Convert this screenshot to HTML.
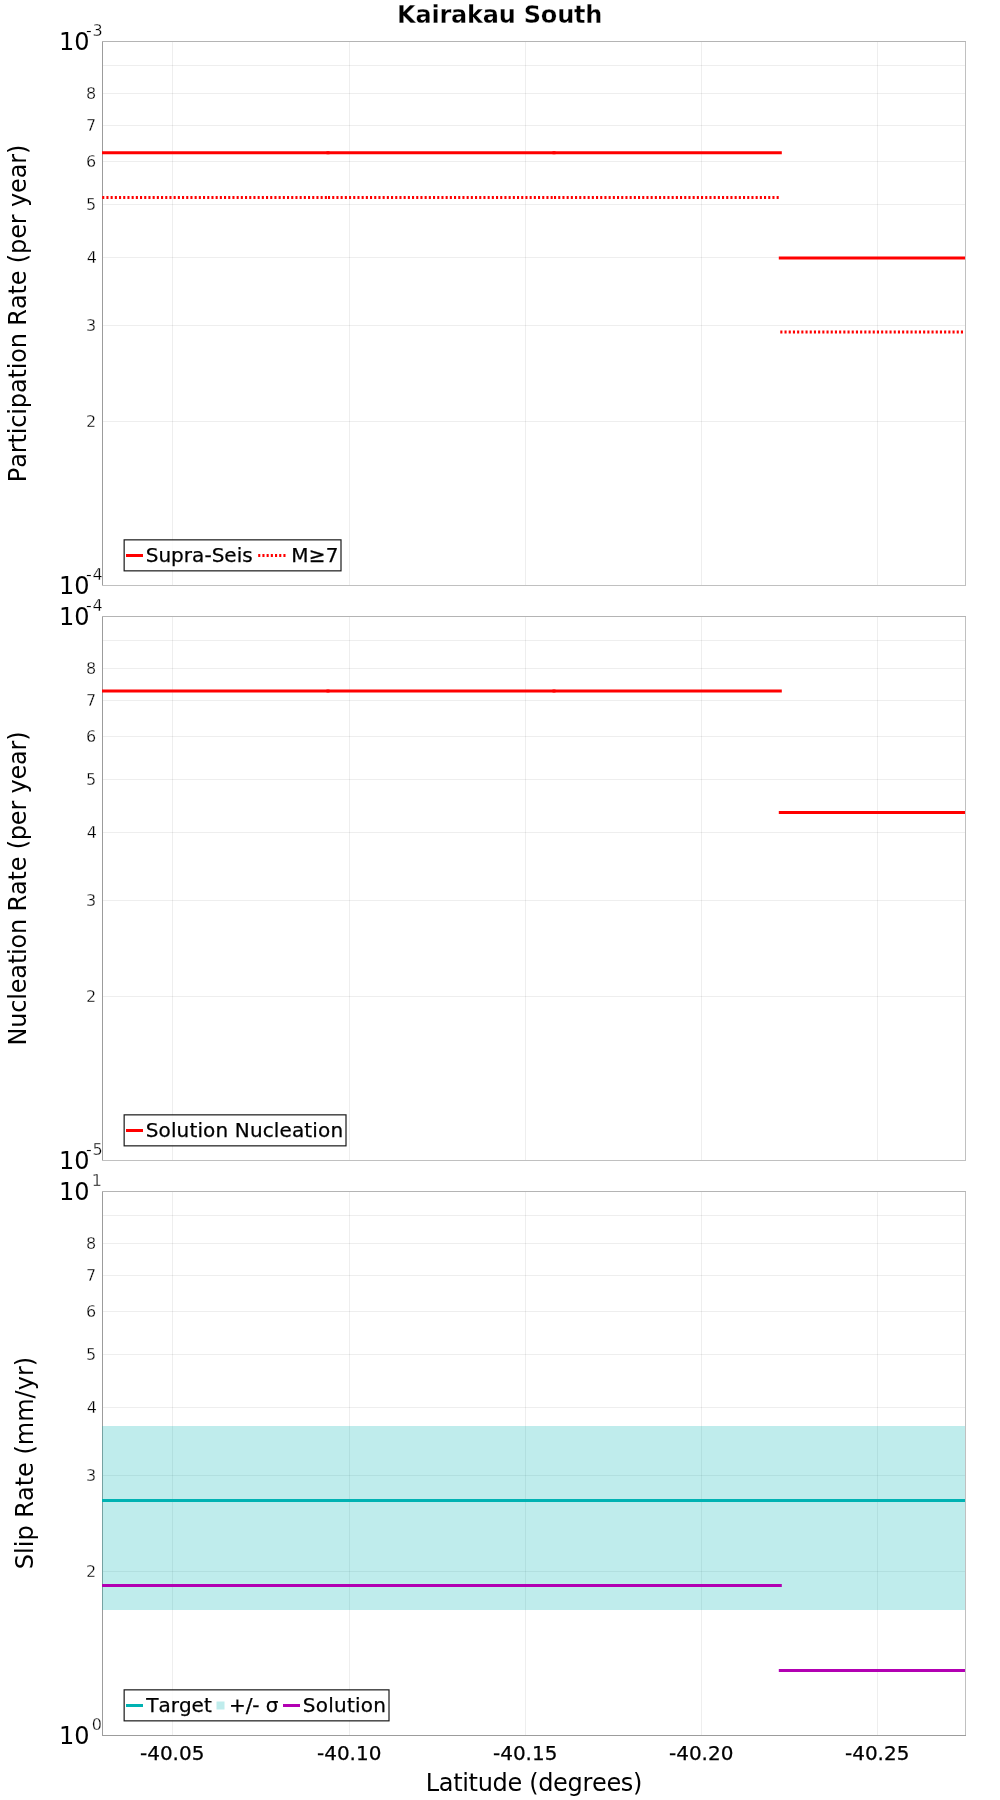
<!DOCTYPE html>
<html lang="en"><head><meta charset="utf-8"><title>Kairakau South</title>
<style>html,body{margin:0;padding:0;background:#fff}svg{display:block;will-change:transform}text{white-space:pre;font-kerning:none}.t{stroke:#fff;stroke-width:0.3px}.b{stroke:#000;stroke-width:0.25px}</style></head>
<body>
<svg width="1000" height="1800" viewBox="0 0 1000 1800" font-family='"DejaVu Sans", "Liberation Sans", sans-serif' fill="#000">
<rect width="1000" height="1800" fill="#fff"/>
<text x="499.6" y="22.6" font-size="24" font-weight="bold" class="t" text-anchor="middle" letter-spacing="-0.21">Kairakau South</text>
<g>
<line x1="172.5" y1="41.5" x2="172.5" y2="585.5" stroke="#000" stroke-opacity="0.067" stroke-width="1"/>
<line x1="349.5" y1="41.5" x2="349.5" y2="585.5" stroke="#000" stroke-opacity="0.067" stroke-width="1"/>
<line x1="525.5" y1="41.5" x2="525.5" y2="585.5" stroke="#000" stroke-opacity="0.067" stroke-width="1"/>
<line x1="701.5" y1="41.5" x2="701.5" y2="585.5" stroke="#000" stroke-opacity="0.067" stroke-width="1"/>
<line x1="877.5" y1="41.5" x2="877.5" y2="585.5" stroke="#000" stroke-opacity="0.067" stroke-width="1"/>
<line x1="102.5" y1="421.5" x2="965.5" y2="421.5" stroke="#000" stroke-opacity="0.067" stroke-width="1"/>
<line x1="102.5" y1="325.5" x2="965.5" y2="325.5" stroke="#000" stroke-opacity="0.067" stroke-width="1"/>
<line x1="102.5" y1="257.5" x2="965.5" y2="257.5" stroke="#000" stroke-opacity="0.067" stroke-width="1"/>
<line x1="102.5" y1="204.5" x2="965.5" y2="204.5" stroke="#000" stroke-opacity="0.067" stroke-width="1"/>
<line x1="102.5" y1="161.5" x2="965.5" y2="161.5" stroke="#000" stroke-opacity="0.067" stroke-width="1"/>
<line x1="102.5" y1="125.5" x2="965.5" y2="125.5" stroke="#000" stroke-opacity="0.067" stroke-width="1"/>
<line x1="102.5" y1="93.5" x2="965.5" y2="93.5" stroke="#000" stroke-opacity="0.067" stroke-width="1"/>
<line x1="102.5" y1="65.5" x2="965.5" y2="65.5" stroke="#000" stroke-opacity="0.067" stroke-width="1"/>
<line x1="102.5" y1="41.0" x2="102.5" y2="586.0" stroke="#9c9c9c" stroke-width="1"/>
<clipPath id="c0"><rect x="102.0" y="41.5" width="863.0" height="544.0"/></clipPath><g clip-path="url(#c0)">
<line x1="102.2" y1="152.75" x2="328" y2="152.75" stroke="#ff0000" stroke-width="3" stroke-linecap="square"/>
<line x1="102.2" y1="197.5" x2="328" y2="197.5" stroke="#ff0000" stroke-width="3" stroke-linecap="butt" stroke-dasharray="2.1 2.1"/>
<line x1="328" y1="152.75" x2="554" y2="152.75" stroke="#ff0000" stroke-width="3" stroke-linecap="square"/>
<line x1="328" y1="197.5" x2="554" y2="197.5" stroke="#ff0000" stroke-width="3" stroke-linecap="butt" stroke-dasharray="2.1 2.1"/>
<line x1="554" y1="152.75" x2="780.3" y2="152.75" stroke="#ff0000" stroke-width="3" stroke-linecap="square"/>
<line x1="554" y1="197.5" x2="780.3" y2="197.5" stroke="#ff0000" stroke-width="3" stroke-linecap="butt" stroke-dasharray="2.1 2.1"/>
<line x1="780.3" y1="258" x2="966" y2="258" stroke="#ff0000" stroke-width="3" stroke-linecap="square"/>
<line x1="780.3" y1="332" x2="966" y2="332" stroke="#ff0000" stroke-width="3" stroke-linecap="butt" stroke-dasharray="2.1 2.1"/>
</g>
<path d="M965.5 41.0V586.0M102.0 585.5H966.0" fill="none" stroke="#c0c0c0" stroke-width="1"/>
<path d="M102.0 41.5H966.0" fill="none" stroke="#b4b4b4" stroke-width="1"/>
<rect x="124.15" y="539.85" width="216.85" height="31" fill="#ffffff" fill-opacity="0.8" stroke="#000" stroke-opacity="0.9" stroke-width="1.2"/>
<line x1="127.5" y1="555.5" x2="141.5" y2="555.5" stroke="#ff0000" stroke-width="3" stroke-linecap="square"/>
<text x="145.7" y="561.6" font-size="20" class="b" letter-spacing="0.03">Supra-Seis</text>
<line x1="258.2" y1="555.5" x2="286.5" y2="555.5" stroke="#ff0000" stroke-width="3" stroke-linecap="butt" stroke-dasharray="2.1 2.1"/>
<text x="291.2" y="561.6" font-size="20" class="b" letter-spacing="0.3">M≥7</text>
<text x="59" y="49.75" font-size="24">10</text>
<text x="86.05" y="36" font-size="16" class="t" letter-spacing="0.6">-3</text>
<text x="59" y="593.75" font-size="24">10</text>
<text x="86.05" y="580" font-size="16" class="t" letter-spacing="0.6">-4</text>
<text x="96.2" y="427" font-size="16" class="t" text-anchor="end">2</text>
<text x="96.2" y="331" font-size="16" class="t" text-anchor="end">3</text>
<text x="97" y="263" font-size="16" class="t" text-anchor="end">4</text>
<text x="96.2" y="210" font-size="16" class="t" text-anchor="end">5</text>
<text x="96.2" y="167" font-size="16" class="t" text-anchor="end">6</text>
<text x="96.2" y="131" font-size="16" class="t" text-anchor="end">7</text>
<text x="96.2" y="99" font-size="16" class="t" text-anchor="end">8</text>
<text transform="translate(26.2,313.5) rotate(-90)" font-size="24" text-anchor="middle" letter-spacing="-0.143">Participation Rate (per year)</text>
</g>
<g>
<line x1="172.5" y1="616.5" x2="172.5" y2="1160.5" stroke="#000" stroke-opacity="0.067" stroke-width="1"/>
<line x1="349.5" y1="616.5" x2="349.5" y2="1160.5" stroke="#000" stroke-opacity="0.067" stroke-width="1"/>
<line x1="525.5" y1="616.5" x2="525.5" y2="1160.5" stroke="#000" stroke-opacity="0.067" stroke-width="1"/>
<line x1="701.5" y1="616.5" x2="701.5" y2="1160.5" stroke="#000" stroke-opacity="0.067" stroke-width="1"/>
<line x1="877.5" y1="616.5" x2="877.5" y2="1160.5" stroke="#000" stroke-opacity="0.067" stroke-width="1"/>
<line x1="102.5" y1="996.5" x2="965.5" y2="996.5" stroke="#000" stroke-opacity="0.067" stroke-width="1"/>
<line x1="102.5" y1="900.5" x2="965.5" y2="900.5" stroke="#000" stroke-opacity="0.067" stroke-width="1"/>
<line x1="102.5" y1="832.5" x2="965.5" y2="832.5" stroke="#000" stroke-opacity="0.067" stroke-width="1"/>
<line x1="102.5" y1="779.5" x2="965.5" y2="779.5" stroke="#000" stroke-opacity="0.067" stroke-width="1"/>
<line x1="102.5" y1="736.5" x2="965.5" y2="736.5" stroke="#000" stroke-opacity="0.067" stroke-width="1"/>
<line x1="102.5" y1="700.5" x2="965.5" y2="700.5" stroke="#000" stroke-opacity="0.067" stroke-width="1"/>
<line x1="102.5" y1="668.5" x2="965.5" y2="668.5" stroke="#000" stroke-opacity="0.067" stroke-width="1"/>
<line x1="102.5" y1="640.5" x2="965.5" y2="640.5" stroke="#000" stroke-opacity="0.067" stroke-width="1"/>
<line x1="102.5" y1="616.0" x2="102.5" y2="1161.0" stroke="#9c9c9c" stroke-width="1"/>
<clipPath id="c575"><rect x="102.0" y="616.5" width="863.0" height="544.0"/></clipPath><g clip-path="url(#c575)">
<line x1="102.5" y1="691" x2="328" y2="691" stroke="#ff0000" stroke-width="3" stroke-linecap="square"/>
<line x1="328" y1="691" x2="554" y2="691" stroke="#ff0000" stroke-width="3" stroke-linecap="square"/>
<line x1="554" y1="691" x2="780.3" y2="691" stroke="#ff0000" stroke-width="3" stroke-linecap="square"/>
<line x1="780.3" y1="812.45" x2="966" y2="812.45" stroke="#ff0000" stroke-width="3" stroke-linecap="square"/>
</g>
<path d="M965.5 616.0V1161.0M102.0 1160.5H966.0" fill="none" stroke="#c0c0c0" stroke-width="1"/>
<path d="M102.0 616.5H966.0" fill="none" stroke="#b4b4b4" stroke-width="1"/>
<rect x="124.15" y="1114.85" width="221.85" height="31" fill="#ffffff" fill-opacity="0.8" stroke="#000" stroke-opacity="0.9" stroke-width="1.2"/>
<line x1="127.5" y1="1130.5" x2="141.5" y2="1130.5" stroke="#ff0000" stroke-width="3" stroke-linecap="square"/>
<text x="145.7" y="1136.6" font-size="20" class="b" letter-spacing="0.14">Solution Nucleation</text>
<text x="59" y="624.75" font-size="24">10</text>
<text x="86.05" y="611" font-size="16" class="t" letter-spacing="0.6">-4</text>
<text x="59" y="1168.75" font-size="24">10</text>
<text x="86.05" y="1155" font-size="16" class="t" letter-spacing="0.6">-5</text>
<text x="96.2" y="1002" font-size="16" class="t" text-anchor="end">2</text>
<text x="96.2" y="906" font-size="16" class="t" text-anchor="end">3</text>
<text x="97" y="838" font-size="16" class="t" text-anchor="end">4</text>
<text x="96.2" y="785" font-size="16" class="t" text-anchor="end">5</text>
<text x="96.2" y="742" font-size="16" class="t" text-anchor="end">6</text>
<text x="96.2" y="706" font-size="16" class="t" text-anchor="end">7</text>
<text x="96.2" y="674" font-size="16" class="t" text-anchor="end">8</text>
<text transform="translate(26.2,888.5) rotate(-90)" font-size="24" text-anchor="middle" letter-spacing="-0.2">Nucleation Rate (per year)</text>
</g>
<g>
<line x1="172.5" y1="1191.5" x2="172.5" y2="1735.5" stroke="#000" stroke-opacity="0.067" stroke-width="1"/>
<line x1="349.5" y1="1191.5" x2="349.5" y2="1735.5" stroke="#000" stroke-opacity="0.067" stroke-width="1"/>
<line x1="525.5" y1="1191.5" x2="525.5" y2="1735.5" stroke="#000" stroke-opacity="0.067" stroke-width="1"/>
<line x1="701.5" y1="1191.5" x2="701.5" y2="1735.5" stroke="#000" stroke-opacity="0.067" stroke-width="1"/>
<line x1="877.5" y1="1191.5" x2="877.5" y2="1735.5" stroke="#000" stroke-opacity="0.067" stroke-width="1"/>
<line x1="102.5" y1="1571.5" x2="965.5" y2="1571.5" stroke="#000" stroke-opacity="0.067" stroke-width="1"/>
<line x1="102.5" y1="1475.5" x2="965.5" y2="1475.5" stroke="#000" stroke-opacity="0.067" stroke-width="1"/>
<line x1="102.5" y1="1407.5" x2="965.5" y2="1407.5" stroke="#000" stroke-opacity="0.067" stroke-width="1"/>
<line x1="102.5" y1="1354.5" x2="965.5" y2="1354.5" stroke="#000" stroke-opacity="0.067" stroke-width="1"/>
<line x1="102.5" y1="1311.5" x2="965.5" y2="1311.5" stroke="#000" stroke-opacity="0.067" stroke-width="1"/>
<line x1="102.5" y1="1275.5" x2="965.5" y2="1275.5" stroke="#000" stroke-opacity="0.067" stroke-width="1"/>
<line x1="102.5" y1="1243.5" x2="965.5" y2="1243.5" stroke="#000" stroke-opacity="0.067" stroke-width="1"/>
<line x1="102.5" y1="1215.5" x2="965.5" y2="1215.5" stroke="#000" stroke-opacity="0.067" stroke-width="1"/>
<line x1="102.5" y1="1191.0" x2="102.5" y2="1736.0" stroke="#9c9c9c" stroke-width="1"/>
<clipPath id="c1150"><rect x="102.0" y="1191.5" width="863.0" height="544.0"/></clipPath><g clip-path="url(#c1150)">
<rect x="102" y="1426" width="864" height="184" fill="#00b2b2" fill-opacity="0.25"/>
<line x1="102.5" y1="1500.4" x2="328" y2="1500.4" stroke="#00b2b2" stroke-width="3" stroke-linecap="square"/>
<line x1="328" y1="1500.4" x2="554" y2="1500.4" stroke="#00b2b2" stroke-width="3" stroke-linecap="square"/>
<line x1="554" y1="1500.4" x2="780.3" y2="1500.4" stroke="#00b2b2" stroke-width="3" stroke-linecap="square"/>
<line x1="780.3" y1="1500.4" x2="966" y2="1500.4" stroke="#00b2b2" stroke-width="3" stroke-linecap="square"/>
<line x1="102.5" y1="1585.5" x2="328" y2="1585.5" stroke="#b200b2" stroke-width="3" stroke-linecap="square"/>
<line x1="328" y1="1585.5" x2="554" y2="1585.5" stroke="#b200b2" stroke-width="3" stroke-linecap="square"/>
<line x1="554" y1="1585.5" x2="780.3" y2="1585.5" stroke="#b200b2" stroke-width="3" stroke-linecap="square"/>
<line x1="780.3" y1="1670.5" x2="966" y2="1670.5" stroke="#b200b2" stroke-width="3" stroke-linecap="square"/>
</g>
<path d="M965.5 1191.0V1736.0M102.0 1735.5H966.0" fill="none" stroke="#c0c0c0" stroke-width="1"/>
<path d="M102.0 1191.5H966.0" fill="none" stroke="#b4b4b4" stroke-width="1"/>
<line x1="102.0" y1="1735.5" x2="966.0" y2="1735.5" stroke="#9c9c9c" stroke-width="1"/>
<rect x="124.15" y="1689.85" width="264.85" height="31" fill="#ffffff" fill-opacity="0.8" stroke="#000" stroke-opacity="0.9" stroke-width="1.2"/>
<line x1="127.5" y1="1705.5" x2="141.5" y2="1705.5" stroke="#00b2b2" stroke-width="3" stroke-linecap="square"/>
<text x="146.2" y="1711.6" font-size="20" class="b" letter-spacing="0">Target</text>
<rect x="216.5" y="1701.5" width="8" height="8" fill="#bfecec"/>
<text x="229" y="1711.6" font-size="20" class="b" letter-spacing="-0.1">+/- σ</text>
<line x1="284.5" y1="1705.5" x2="298.5" y2="1705.5" stroke="#b200b2" stroke-width="3" stroke-linecap="square"/>
<text x="302.7" y="1711.6" font-size="20" class="b" letter-spacing="0.26">Solution</text>
<text x="59" y="1199.75" font-size="24">10</text>
<text x="91.8" y="1186" font-size="16" class="t">1</text>
<text x="59" y="1743.75" font-size="24">10</text>
<text x="91.8" y="1730" font-size="16" class="t">0</text>
<text x="96.2" y="1577" font-size="16" class="t" text-anchor="end">2</text>
<text x="96.2" y="1481" font-size="16" class="t" text-anchor="end">3</text>
<text x="97" y="1413" font-size="16" class="t" text-anchor="end">4</text>
<text x="96.2" y="1360" font-size="16" class="t" text-anchor="end">5</text>
<text x="96.2" y="1317" font-size="16" class="t" text-anchor="end">6</text>
<text x="96.2" y="1281" font-size="16" class="t" text-anchor="end">7</text>
<text x="96.2" y="1249" font-size="16" class="t" text-anchor="end">8</text>
<text transform="translate(33,1463) rotate(-90)" font-size="24" text-anchor="middle" letter-spacing="0">Slip Rate (mm/yr)</text>
</g>
<text x="172.2" y="1760" font-size="20" class="b" text-anchor="middle">-40.05</text>
<text x="349.2" y="1760" font-size="20" class="b" text-anchor="middle">-40.10</text>
<text x="525.2" y="1760" font-size="20" class="b" text-anchor="middle">-40.15</text>
<text x="701.2" y="1760" font-size="20" class="b" text-anchor="middle">-40.20</text>
<text x="877.2" y="1760" font-size="20" class="b" text-anchor="middle">-40.25</text>
<text x="533.9" y="1790.8" font-size="24" text-anchor="middle" letter-spacing="-0.33">Latitude (degrees)</text>
</svg>
</body></html>
